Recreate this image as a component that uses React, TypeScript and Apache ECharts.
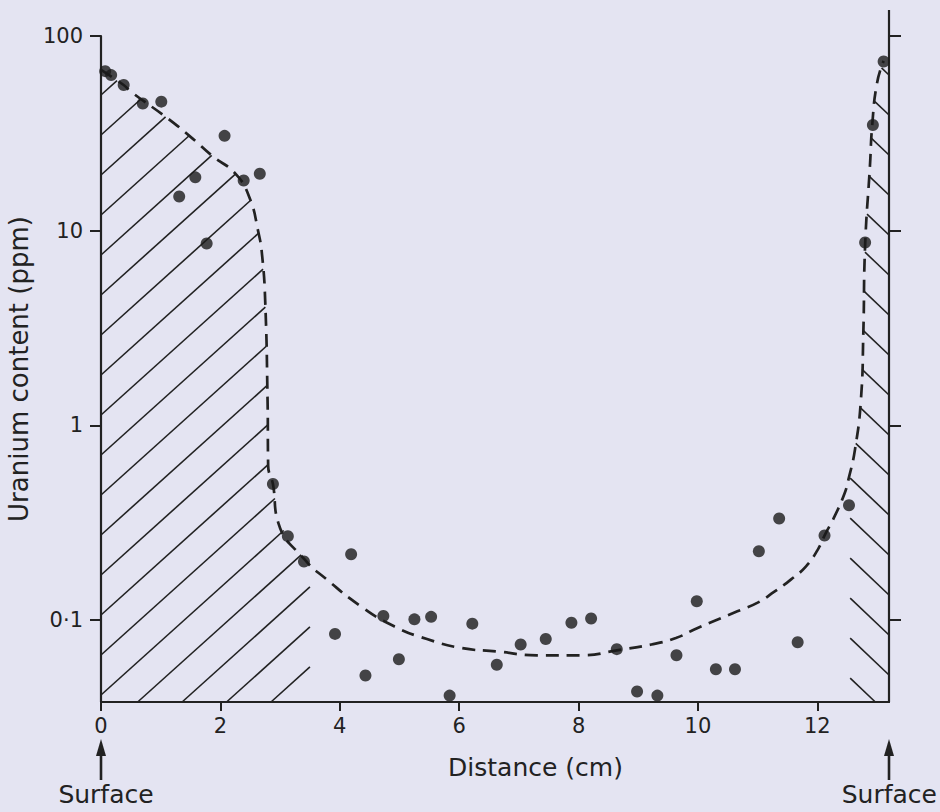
import React, { useEffect, useRef } from "react";
import * as echarts from "echarts";

// ---- data ----
const pointX = [0.07, 0.17, 0.38, 0.70, 1.01, 1.31, 1.58, 1.77, 2.07, 2.39, 2.66, 2.88, 3.13, 3.40, 3.92, 4.19, 4.43, 4.73, 4.99, 5.25, 5.53, 5.84, 6.22, 6.63, 7.03, 7.45, 7.88, 8.21, 8.64, 8.98, 9.32, 9.64, 9.98, 10.30, 10.62, 11.02, 11.36, 11.67, 12.12, 12.53, 12.80, 12.93, 13.11];
const pointY = [66, 63, 56, 45, 46, 15.0, 18.8, 8.6, 30.7, 18.1, 19.6, 0.50, 0.27, 0.20, 0.085, 0.218, 0.052, 0.105, 0.063, 0.101, 0.104, 0.041, 0.096, 0.059, 0.075, 0.080, 0.097, 0.102, 0.071, 0.043, 0.041, 0.066, 0.125, 0.056, 0.056, 0.226, 0.333, 0.077, 0.272, 0.389, 8.7, 34.9, 74];

const curveX = [0, 0.38, 0.50, 1.15, 1.53, 1.88, 2.24, 2.48, 2.64, 2.70, 2.75, 2.79, 2.80, 2.88, 2.97, 3.41, 3.78, 4.35, 4.91, 5.46, 6.03, 6.65, 7.30, 8.06, 8.64, 9.22, 9.63, 9.92, 10.27, 10.66, 11.00, 11.28, 11.56, 11.81, 12.01, 12.12, 12.29, 12.46, 12.52, 12.63, 12.73, 12.77, 12.80, 12.88, 12.92, 13.00, 13.11];
const curveY = [67, 56, 51.8, 37.1, 29.8, 24.0, 19.8, 15.0, 9.7, 7.4, 4.4, 1.36, 0.62, 0.50, 0.316, 0.205, 0.162, 0.118, 0.093, 0.080, 0.072, 0.069, 0.066, 0.066, 0.070, 0.075, 0.081, 0.089, 0.099, 0.111, 0.123, 0.140, 0.162, 0.189, 0.231, 0.272, 0.342, 0.451, 0.527, 0.751, 1.36, 2.99, 8.4, 21.3, 35.2, 57.4, 74.5];

const xTicks = [0, 2, 4, 6, 8, 10, 12];
const yTicks = [0.1, 1, 10, 100];
const X_MIN = 0;
const X_MAX = 13.2;
const Y_MIN = 0.038;
const Y_MAX = 100;
const leftHatchEnd = 3.5; // cm, right edge of the left shaded zone
const rightHatchStart = 12.55; // cm, left edge of the right shaded zone

const INK = "#222222";
const BG = "#e4e4f2";
const FONT = "DejaVu Sans";

type Pt = number[];

function cross(a: Pt, b: Pt) {
  return a[0] * b[1] - a[1] * b[0];
}

function hatch(poly: Pt[], xRef: number, yRef: number, step: number, slope: number, span: number) {
  const segs: Pt[][] = [];
  const D = [1, slope];
  for (let k = -span; k <= span; k++) {
    const P0 = [xRef, yRef + k * step];
    const ts: number[] = [];
    for (let i = 0; i < poly.length; i++) {
      const A = poly[i];
      const B = poly[(i + 1) % poly.length];
      const E = [B[0] - A[0], B[1] - A[1]];
      const den = cross(D, E);
      if (Math.abs(den) < 1e-9) continue;
      const W = [A[0] - P0[0], A[1] - P0[1]];
      const t = cross(W, E) / den;
      const u = cross(W, D) / den;
      if (u >= 0 && u < 1) ts.push(t);
    }
    ts.sort((a, b) => a - b);
    for (let i = 0; i + 1 < ts.length; i += 2) {
      const a = [P0[0] + ts[i] * D[0], P0[1] + ts[i] * D[1]];
      const b = [P0[0] + ts[i + 1] * D[0], P0[1] + ts[i + 1] * D[1]];
      if (Math.abs(b[0] - a[0]) > 0.5) segs.push([a, b]);
    }
  }
  return segs;
}

function interpAt(pts: Pt[], xPix: number): Pt {
  for (let i = 0; i + 1 < pts.length; i++) {
    const a = pts[i];
    const b = pts[i + 1];
    if ((a[0] - xPix) * (b[0] - xPix) <= 0 && a[0] !== b[0]) {
      const f = (xPix - a[0]) / (b[0] - a[0]);
      return [xPix, a[1] + f * (b[1] - a[1])];
    }
  }
  return pts[pts.length - 1];
}

export default function App() {
  const ref = useRef<HTMLDivElement>(null);

  useEffect(() => {
    if (!ref.current) return;
    const chart = echarts.init(ref.current, undefined, { renderer: "svg" });

    const scatterData = pointX.map((x, i) => [x, pointY[i]]);
    const curveData = curveX.map((x, i) => [x, curveY[i]]);

    const renderHatch = (params: any, api: any) => {
      const cpx: Pt[] = curveData.map((d) => api.coord(d));
      const bottomL = api.coord([X_MIN, Y_MIN]);
      const bottomR = api.coord([X_MAX, Y_MIN]);
      const xl = api.coord([leftHatchEnd, Y_MIN])[0];
      const xr = api.coord([rightHatchStart, Y_MIN])[0];
      const yb = bottomL[1];

      // left zone
      const leftPoly: Pt[] = [[bottomL[0], yb]];
      for (const p of cpx) if (p[0] < xl) leftPoly.push(p);
      leftPoly.push(interpAt(cpx, xl));
      leftPoly.push([xl, yb]);

      // right zone
      const rightPoly: Pt[] = [[xr, yb], interpAt(cpx, xr)];
      for (const p of cpx) if (p[0] > xr) rightPoly.push(p);
      rightPoly.push([bottomR[0], cpx[cpx.length - 1][1]]);
      rightPoly.push([bottomR[0], yb]);

      const segs = [
        ...hatch(leftPoly, bottomL[0], yb - 7, 40, -0.9, 40),
        ...hatch(rightPoly, bottomR[0], yb - 27, 40, 0.95, 40),
      ];
      return {
        type: "group",
        children: segs.map((s) => ({
          type: "line",
          shape: { x1: s[0][0], y1: s[0][1], x2: s[1][0], y2: s[1][1] },
          style: { stroke: INK, lineWidth: 1.6 },
        })),
      };
    };

    const yLabelFmt = (v: number) => {
      if (Math.abs(v - 0.1) < 1e-9) return "0·1";
      return String(Math.round(v));
    };

    chart.setOption({
      animation: false,
      backgroundColor: BG,
      grid: { left: 101, right: 51, top: 36, bottom: 110, outerBoundsMode: "none" },
      xAxis: {
        type: "value",
        min: X_MIN,
        max: X_MAX,
        name: "Distance (cm)",
        nameLocation: "middle",
        nameGap: 53,
        nameTextStyle: { fontSize: 25, color: INK, fontFamily: FONT, padding: [0, 0, 0, 81] },
        axisLine: { show: true, lineStyle: { color: INK, width: 2.2 } },
        axisTick: { show: true, customValues: xTicks, length: 9, lineStyle: { color: INK, width: 2 } },
        axisLabel: { customValues: xTicks, fontSize: 21, color: INK, fontFamily: FONT, margin: 13 },
        splitLine: { show: false },
      },
      yAxis: [
        {
          type: "log",
          logBase: 10,
          min: Y_MIN,
          max: Y_MAX,
          name: "Uranium content (ppm)",
          nameLocation: "middle",
          nameGap: 61,
          nameTextStyle: { fontSize: 26, color: INK, fontFamily: FONT },
          axisLine: { show: true, lineStyle: { color: INK, width: 2.2 } },
          axisTick: { show: true, customValues: yTicks, length: 11, lineStyle: { color: INK, width: 2 } },
          axisLabel: { customValues: yTicks, fontSize: 21, color: INK, fontFamily: FONT, margin: 18, formatter: yLabelFmt },
          splitLine: { show: false },
        },
        {
          type: "log",
          logBase: 10,
          min: Y_MIN,
          max: Y_MAX,
          position: "right",
          axisLine: { show: true, lineStyle: { color: INK, width: 2.2 } },
          axisTick: { show: true, customValues: yTicks, length: 12, lineStyle: { color: INK, width: 2 } },
          axisLabel: { show: false },
          splitLine: { show: false },
        },
      ],
      series: [
        {
          type: "custom",
          coordinateSystem: "cartesian2d",
          renderItem: renderHatch,
          data: [[6, 1]],
          silent: true,
          z: 1,
        },
        {
          type: "line",
          data: curveData,
          showSymbol: false,
          smooth: 0.5,
          lineStyle: { color: INK, width: 2.7, type: [13, 8] },
          z: 2,
        },
        {
          type: "scatter",
          data: scatterData,
          symbol: "circle",
          symbolSize: 12,
          itemStyle: { color: "#1a1a1a" },
          z: 3,
        },
      ],
    });

    const x0 = chart.convertToPixel({ xAxisIndex: 0 }, X_MIN) as number;
    const x1 = chart.convertToPixel({ xAxisIndex: 0 }, X_MAX) as number;
    const yb = chart.convertToPixel({ yAxisIndex: 0 }, Y_MIN) as number;
    const yt = chart.convertToPixel({ yAxisIndex: 0 }, Y_MAX) as number;

    const arrow = (x: number) => [
      {
        type: "polygon",
        shape: { points: [[x, yb + 37], [x - 5, yb + 54], [x + 5, yb + 54]] },
        style: { fill: INK },
      },
      {
        type: "line",
        shape: { x1: x, y1: yb + 50, x2: x, y2: yb + 78 },
        style: { stroke: INK, lineWidth: 2.6 },
      },
    ];

    chart.setOption({
      graphic: [
        {
          type: "line",
          shape: { x1: x1, y1: yt - 26, x2: x1, y2: yt },
          style: { stroke: INK, lineWidth: 2.2 },
        },
        ...arrow(x0),
        ...arrow(x1),
        {
          type: "text",
          x: x0 + 5,
          y: yb + 92,
          style: { text: "Surface", fontSize: 25, fill: INK, fontFamily: FONT, align: "center", verticalAlign: "middle" },
        },
        {
          type: "text",
          x: x1 + 48,
          y: yb + 92,
          style: { text: "Surface", fontSize: 25, fill: INK, fontFamily: FONT, align: "right", verticalAlign: "middle" },
        },
      ],
    });

    return () => chart.dispose();
  }, []);

  return (
    <div
      ref={ref}
      style={{ position: "fixed", left: 0, top: 0, width: 940, height: 812 }}
    />
  );
}
